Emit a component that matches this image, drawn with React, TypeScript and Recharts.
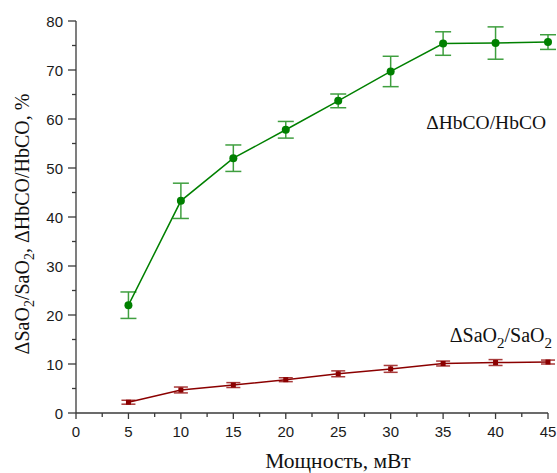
import React from 'react';
import {
  ComposedChart,
  Line,
  XAxis,
  YAxis,
  ErrorBar,
  Label,
  Customized,
} from 'recharts';

// power, mW
const power = [5, 10, 15, 20, 25, 30, 35, 40, 45];
// ΔHbCO/HbCO, %
const hbco = [22.0, 43.3, 52.0, 57.8, 63.7, 69.7, 75.4, 75.5, 75.7];
const hbcoErr = [2.7, 3.6, 2.7, 1.7, 1.4, 3.1, 2.4, 3.3, 1.5];
// ΔSaO2/SaO2, %
const sao2 = [2.2, 4.7, 5.7, 6.8, 8.0, 9.0, 10.1, 10.3, 10.4];
const sao2Err = [0.4, 0.6, 0.5, 0.4, 0.6, 0.7, 0.5, 0.6, 0.4];

const xTicks = [0, 2.5, 5, 7.5, 10, 12.5, 15, 17.5, 20, 22.5, 25, 27.5, 30, 32.5, 35, 37.5, 40, 42.5, 45];
const yTicks = [0, 5, 10, 15, 20, 25, 30, 35, 40, 45, 50, 55, 60, 65, 70, 75, 80];

const AXIS_COLOR = '#3a3a3a';
const SANS = '"Liberation Sans", Arial, sans-serif';
const SERIF = '"Liberation Serif", "Times New Roman", serif';

const data = power.map((p, i) => ({
  power: p,
  hbco: hbco[i],
  hbcoErr: hbcoErr[i],
  sao2: sao2[i],
  sao2Err: sao2Err[i],
}));

const XTick = (props: any) => {
  const { x, y, payload } = props;
  const major = payload.value % 5 === 0;
  return (
    <g>
      <line x1={x} x2={x} y1={y} y2={y + (major ? 6 : 4)} stroke={AXIS_COLOR} strokeWidth={1.3} />
      {major && (
        <text x={x} y={y + 24} textAnchor="middle" fontFamily={SANS} fontSize={15} fill="#1a1a1a">
          {payload.value}
        </text>
      )}
    </g>
  );
};

const YTick = (props: any) => {
  const { x, y, payload } = props;
  const major = payload.value % 10 === 0;
  return (
    <g>
      <line x1={x} x2={x - (major ? 8 : 4)} y1={y} y2={y} stroke={AXIS_COLOR} strokeWidth={1.3} />
      {major && (
        <text x={x - 13} y={y + 5.5} textAnchor="end" fontFamily={SANS} fontSize={15} fill="#1a1a1a">
          {payload.value}
        </text>
      )}
    </g>
  );
};

const SquareDot = (props: any) => {
  const { cx, cy, key } = props;
  return <rect key={key} x={cx - 2.5} y={cy - 2.5} width={5} height={5} fill="#8b0000" />;
};

const SeriesLabels = () => (
  <g fontFamily={SERIF} fill="#111">
    <text x={546} y={129} textAnchor="end" fontSize={19.5}>
      ΔHbCO/HbCO
    </text>
    <text x={552} y={342} textAnchor="end" fontSize={20}>
      ΔSaO<tspan dy={6} fontSize={15}>2</tspan>
      <tspan dy={-6}>/SaO</tspan>
      <tspan dy={6} fontSize={15}>2</tspan>
    </text>
  </g>
);

export default function App() {
  return (
    <div style={{ position: 'absolute', left: 0, top: 0, background: '#fff' }}>
      <ComposedChart
        width={557}
        height={473}
        data={data}
        margin={{ top: 21, right: 9, bottom: 0, left: 0 }}
      >
        <XAxis
          dataKey="power"
          type="number"
          domain={[0, 45]}
          ticks={xTicks}
          interval={0}
          tickSize={0}
          tickMargin={0}
          tickLine={false}
          tick={<XTick />}
          height={60}
          stroke={AXIS_COLOR}
          strokeWidth={1.3}
        >
          <Label
            content={() => (
              <text x={338} y={468} textAnchor="middle" fontFamily={SERIF} fontSize={21.5} fill="#111">
                Мощность, мВт
              </text>
            )}
          />
        </XAxis>
        <YAxis
          type="number"
          domain={[0, 80]}
          ticks={yTicks}
          interval={0}
          tickSize={0}
          tickMargin={0}
          tickLine={false}
          tick={<YTick />}
          width={76}
          stroke={AXIS_COLOR}
          strokeWidth={1.3}
          allowDataOverflow
        >
          <Label
            content={() => (
              <text
                x={29}
                y={224}
                textAnchor="middle"
                transform="rotate(-90, 29, 224)"
                fontFamily={SERIF}
                fontSize={20}
                fill="#111"
              >
                ΔSaO<tspan dy={5} fontSize={14}>2</tspan>
                <tspan dy={-5}>/SaO</tspan>
                <tspan dy={5} fontSize={14}>2</tspan>
                <tspan dy={-5}>,  ΔHbCO/HbCO, %</tspan>
              </text>
            )}
          />
        </YAxis>
        <Line
          dataKey="hbco"
          stroke="#008000"
          strokeWidth={1.5}
          dot={{ r: 4, fill: '#008000', stroke: '#008000', strokeWidth: 0 }}
          isAnimationActive={false}
        >
          <ErrorBar dataKey="hbcoErr" width={8} stroke="#3f9f3f" strokeWidth={1.5} direction="y" />
        </Line>
        <Line
          dataKey="sao2"
          stroke="#8b0000"
          strokeWidth={1.5}
          dot={<SquareDot />}
          isAnimationActive={false}
        >
          <ErrorBar dataKey="sao2Err" width={7} stroke="#a83a3a" strokeWidth={1.5} direction="y" />
        </Line>
        <Customized component={SeriesLabels} />
      </ComposedChart>
    </div>
  );
}
